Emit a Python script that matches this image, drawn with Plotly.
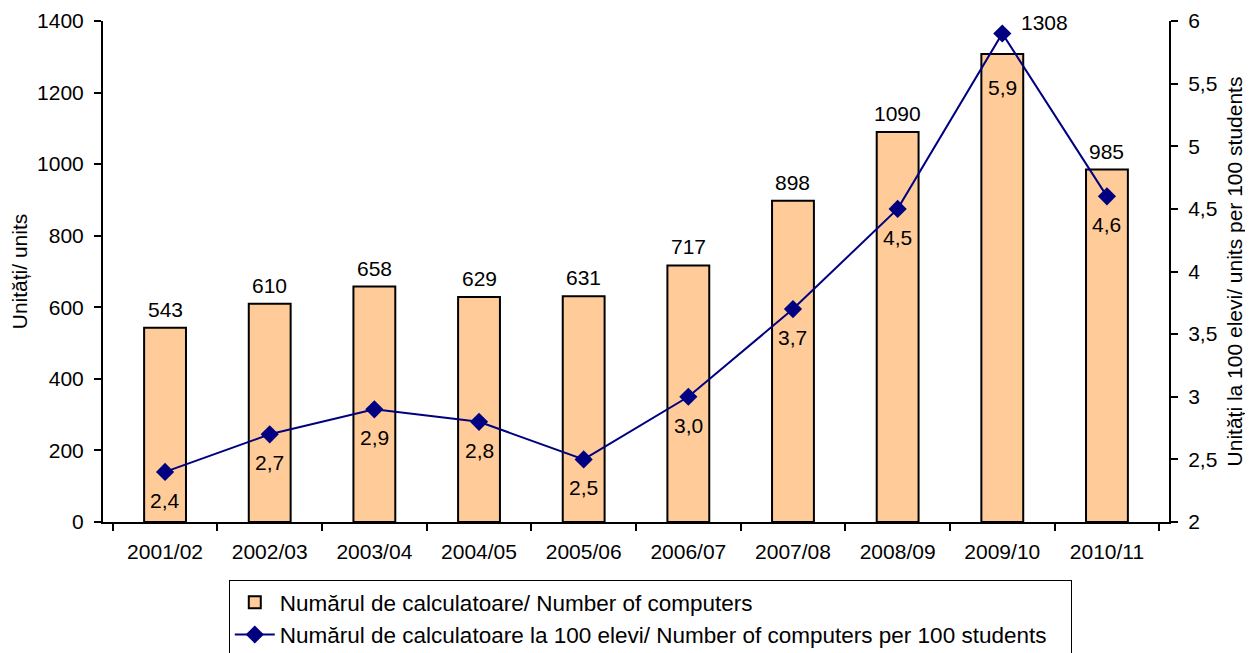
"""Calculatoare în școli: număr total și număr la 100 de elevi"""

import plotly.graph_objects as go

years = ["2001/02", "2002/03", "2003/04", "2004/05", "2005/06",
         "2006/07", "2007/08", "2008/09", "2009/10", "2010/11"]
computers = [543, 610, 658, 629, 631, 717, 898, 1090, 1308, 985]
per_100 = [2.4, 2.7, 2.9, 2.8, 2.5, 3.0, 3.7, 4.5, 5.9, 4.6]

FONT = "Liberation Sans, Arial, sans-serif"
BAR_FILL = "#FFCC99"
LINE_COLOR = "#000080"
FS = 21

fig = go.Figure()

fig.add_trace(go.Bar(
    x=years,
    y=computers,
    name="Numărul de calculatoare/ Number of computers",
    marker=dict(color=BAR_FILL, line=dict(color="black", width=2)),
    width=0.4,
))

fig.add_trace(go.Scatter(
    x=years,
    y=per_100,
    yaxis="y2",
    mode="lines+markers",
    # spațiile de la final lărgesc puțin chenarul legendei
    name="Numărul de calculatoare la 100 elevi/ Number of computers per 100 students\u00a0\u00a0\u00a0",
    line=dict(color=LINE_COLOR, width=2),
    marker=dict(symbol="diamond", size=14, color=LINE_COLOR),
))

# etichete de date (câteva mutate manual, ca în original)
bar_shift = {"2009/10": (42, 18)}
line_shift = {"2009/10": -40}

annotations = []
for yr, v in zip(years, computers):
    dx, dy = bar_shift.get(yr, (0, 5))
    annotations.append(dict(
        x=yr, y=v, xref="x", yref="y", text=str(v), showarrow=False,
        yanchor="bottom", xshift=dx, yshift=dy,
        font=dict(family=FONT, size=FS, color="black"),
    ))
for yr, v in zip(years, per_100):
    annotations.append(dict(
        x=yr, y=v, xref="x", yref="y2",
        text=f"{v:.1f}".replace(".", ","), showarrow=False,
        yanchor="top", yshift=line_shift.get(yr, -15),
        font=dict(family=FONT, size=FS, color="black"),
    ))

axis_common = dict(
    showline=True, linecolor="black", linewidth=2,
    ticks="outside", ticklen=7, tickwidth=2, tickcolor="black",
    showgrid=False, zeroline=False, automargin=False,
    tickfont=dict(family=FONT, size=FS, color="black"),
)

# la pagina html corpul are o margine de 8px, deci figura e cu 8px mai mică
fig.update_layout(
    width=1245,
    height=645,
    margin=dict(l=95, r=84, t=13, b=131),
    plot_bgcolor="white",
    paper_bgcolor="white",
    separators=", ",
    bargap=0.6,
    font=dict(family=FONT, size=FS, color="black"),
    xaxis=dict(**axis_common, tickson="boundaries", ticklabelstandoff=10),
    yaxis=dict(
        **axis_common, range=[0, 1400], dtick=200, ticklabelstandoff=6,
        title=dict(text="Unități/ units", font=dict(family=FONT, size=FS), standoff=16),
    ),
    yaxis2=dict(
        **axis_common, range=[2, 6], dtick=0.5, overlaying="y", side="right",
        ticklabelstandoff=6,
        title=dict(text="Unități la 100 elevi/ units per 100 students",
                   font=dict(family=FONT, size=FS), standoff=11),
    ),
    legend=dict(
        x=0.118, y=0.113, xanchor="left", yanchor="top", yref="container",
        bordercolor="black", borderwidth=1,
        font=dict(family=FONT, size=22.5, color="black"),
        itemwidth=40,
    ),
    annotations=annotations,
)

fig.write_html("out.html")
